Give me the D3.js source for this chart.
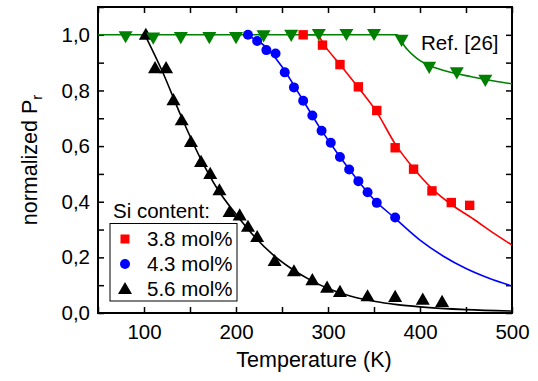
<!DOCTYPE html>
<html>
<head>
<meta charset="utf-8">
<script src="https://cdn.jsdelivr.net/npm/d3@7"></script>
<style>
  body { margin: 0; background: #fff; }
  svg { display: block; font-family: "Liberation Sans", Arial, sans-serif; }
</style>
</head>
<body>
<svg id="chart" width="538" height="381"></svg>
<script>
const WIDTH = 538;
const HEIGHT = 381;
const margin = { top: 7, right: 26, bottom: 68, left: 98 };

// measured points (temperature in K, normalized Pr)
const tempSi38 = [273, 294, 313, 333, 353, 373, 393, 413, 434, 454];
const prSi38 = [1.0, 0.963, 0.893, 0.813, 0.728, 0.594, 0.517, 0.439, 0.397, 0.387];

const tempSi43 = [213, 223, 233, 243, 253, 263, 273, 283, 293, 303, 313, 323, 333, 343, 353, 373];
const prSi43 = [1.0, 0.978, 0.945, 0.933, 0.865, 0.811, 0.763, 0.71, 0.655, 0.612, 0.561, 0.516, 0.474, 0.434, 0.396, 0.343];

const tempSi56 = [102, 112, 124, 132, 141, 151, 162, 172, 182, 193, 204, 213, 223, 242, 263, 283, 299, 313, 343, 373, 403, 424];
const prSi56 = [1.0, 0.88, 0.88, 0.765, 0.693, 0.615, 0.543, 0.5, 0.441, 0.363, 0.351, 0.31, 0.273, 0.187, 0.15, 0.118, 0.091, 0.076, 0.06, 0.058, 0.048, 0.04];

const tempRef = [80, 110, 140, 171, 200, 230, 260, 290, 320, 350, 380, 410, 440, 471];
const prRef = [0.995, 0.99, 0.992, 0.992, 0.992, 0.998, 1.0, 1.003, 1.003, 1.003, 0.982, 0.885, 0.865, 0.838];

// fitted curves
const fitTemp38 = [270, 288, 296, 313, 333, 353, 373, 393, 413, 434, 458, 480, 500];
const fitPr38 = [1.0, 1.0, 0.962, 0.893, 0.81, 0.722, 0.608, 0.52, 0.447, 0.39, 0.338, 0.287, 0.244];

const fitTemp43 = [210, 220, 233, 250, 270, 290, 310, 330, 350, 373, 400, 425, 450, 475, 500];
const fitPr43 = [1.0, 0.985, 0.955, 0.885, 0.78, 0.672, 0.575, 0.487, 0.408, 0.34, 0.262, 0.205, 0.16, 0.125, 0.097];

const fitTemp56 = [101, 120, 140, 160, 180, 200, 220, 240, 260, 280, 300, 325, 350, 375, 400, 450, 500];
const fitPr56 = [1.0, 0.868, 0.71, 0.565, 0.445, 0.355, 0.275, 0.21, 0.16, 0.12, 0.088, 0.06, 0.042, 0.03, 0.022, 0.012, 0.007];

const fitTempRef = [50, 375, 380, 386, 393, 400, 410, 425, 440, 455, 470, 485, 500];
const fitPrRef = [1.0, 1.0, 0.975, 0.948, 0.925, 0.907, 0.89, 0.873, 0.86, 0.85, 0.84, 0.831, 0.824];

const legendLabels = ['3.8 mol%', '4.3 mol%', '5.6 mol%'];
const xTicks = [100, 200, 300, 400, 500];
const yTicks = [0, 0.2, 0.4, 0.6, 0.8, 1.0];

const svg = d3.select('#chart');
const x = d3.scaleLinear().domain([50, 500]).range([margin.left, WIDTH - margin.right]);
const y = d3.scaleLinear().domain([0, 1.1]).range([HEIGHT - margin.bottom, margin.top]);
const comma = (v) => d3.format('.1f')(v).replace('.', ',');

const x0 = x.range()[0], x1 = x.range()[1];
const y0 = y.range()[0], y1 = y.range()[1];

// axes with inward ticks on all four sides
const minorX = d3.range(50, 501, 50);
const minorY = d3.range(0, 1.11, 0.1);

svg.append('g').attr('transform', `translate(0,${y0})`)
  .call(d3.axisBottom(x).tickValues(minorX).tickSize(-6).tickFormat(''))
  .call((g) => g.select('.domain').remove());
svg.append('g').attr('transform', `translate(0,${y1})`)
  .call(d3.axisTop(x).tickValues(minorX).tickSize(-6).tickFormat(''))
  .call((g) => g.select('.domain').remove());
svg.append('g').attr('transform', `translate(${x0},0)`)
  .call(d3.axisLeft(y).tickValues(minorY).tickSize(-6).tickFormat(''))
  .call((g) => g.select('.domain').remove());
svg.append('g').attr('transform', `translate(${x1},0)`)
  .call(d3.axisRight(y).tickValues(minorY).tickSize(-6).tickFormat(''))
  .call((g) => g.select('.domain').remove());
svg.selectAll('.tick line').attr('stroke', '#000').attr('stroke-width', 1.5);

// tick labels
const xAxis = svg.append('g').attr('transform', `translate(0,${y0})`)
  .call(d3.axisBottom(x).tickValues(xTicks).tickSize(0).tickPadding(11).tickFormat(d3.format('d')));
xAxis.select('.domain').remove();
xAxis.selectAll('text').attr('font-size', 20.5).attr('font-family', '"Liberation Sans", Arial, sans-serif').attr('fill', '#000');

const yAxis = svg.append('g').attr('transform', `translate(${x0},0)`)
  .call(d3.axisLeft(y).tickValues(yTicks).tickSize(0).tickPadding(8).tickFormat(comma));
yAxis.select('.domain').remove();
yAxis.selectAll('text').attr('font-size', 20.5).attr('font-family', '"Liberation Sans", Arial, sans-serif').attr('fill', '#000');

// frame
svg.append('rect')
  .attr('x', x0).attr('y', y1)
  .attr('width', x1 - x0).attr('height', y0 - y1)
  .attr('fill', 'none').attr('stroke', '#000').attr('stroke-width', 2);

// fitted lines
const line = d3.line()
  .x((d) => x(d[0]))
  .y((d) => y(d[1]))
  .curve(d3.curveMonotoneX);
const zip = (a, b) => a.map((v, i) => [v, b[i]]);

const plot = svg.append('g');
const curves = [
  { t: fitTemp56, p: fitPr56, color: '#000' },
  { t: fitTemp43, p: fitPr43, color: '#0000ff' },
  { t: fitTemp38, p: fitPr38, color: '#ff0000' },
  { t: fitTempRef, p: fitPrRef, color: '#008000' },
];
curves.forEach((c) => {
  plot.append('path')
    .attr('d', line(zip(c.t, c.p)))
    .attr('fill', 'none')
    .attr('stroke', c.color)
    .attr('stroke-width', 1.6);
});

// markers
const tri = d3.symbol().type(d3.symbolTriangle).size(85);

plot.selectAll('.m56').data(zip(tempSi56, prSi56)).enter()
  .append('path')
  .attr('d', tri)
  .attr('transform', (d) => `translate(${x(d[0])},${y(d[1]) + 1})`)
  .attr('fill', '#000');

plot.selectAll('.m43').data(zip(tempSi43, prSi43)).enter()
  .append('circle')
  .attr('cx', (d) => x(d[0]))
  .attr('cy', (d) => y(d[1]))
  .attr('r', 5)
  .attr('fill', '#0000ff');

plot.selectAll('.m38').data(zip(tempSi38, prSi38)).enter()
  .append('rect')
  .attr('x', (d) => x(d[0]) - 4.7)
  .attr('y', (d) => y(d[1]) - 4.7)
  .attr('width', 9.4)
  .attr('height', 9.4)
  .attr('fill', '#ff0000');

plot.selectAll('.mref').data(zip(tempRef, prRef)).enter()
  .append('path')
  .attr('d', tri)
  .attr('transform', (d) => `translate(${x(d[0])},${y(d[1]) - 1}) rotate(180)`)
  .attr('fill', '#008000');

// Ref. label
svg.append('text')
  .attr('x', 421).attr('y', 50)
  .attr('font-size', 20.5)
  .text('Ref. [26]');

// legend
svg.append('text')
  .attr('x', 113).attr('y', 218)
  .attr('font-size', 20.5)
  .text('Si content:');
svg.append('rect')
  .attr('x', 110).attr('y', 223.5)
  .attr('width', 127).attr('height', 77.5)
  .attr('fill', '#fff').attr('stroke', '#000').attr('stroke-width', 1);

const legendRows = svg.append('g');
legendLabels.forEach((label, i) => {
  const cy = 239 + i * 25;
  if (i === 0) {
    legendRows.append('rect').attr('x', 120.5).attr('y', cy - 4.5).attr('width', 9).attr('height', 9).attr('fill', '#ff0000');
  } else if (i === 1) {
    legendRows.append('circle').attr('cx', 125).attr('cy', cy).attr('r', 5).attr('fill', '#0000ff');
  } else {
    legendRows.append('path').attr('d', tri).attr('transform', `translate(125,${cy + 1})`).attr('fill', '#000');
  }
  legendRows.append('text')
    .attr('x', 147).attr('y', cy + 7)
    .attr('font-size', 20.5)
    .text(label);
});

// axis titles
svg.append('text')
  .attr('x', (x0 + x1) / 2 + 9).attr('y', 367)
  .attr('text-anchor', 'middle')
  .attr('font-size', 21.5)
  .text('Temperature (K)');

const yTitle = svg.append('text')
  .attr('transform', `translate(37,${(y0 + y1) / 2}) rotate(-90)`)
  .attr('text-anchor', 'middle')
  .attr('font-size', 21.5);
yTitle.append('tspan').text('normalized P');
yTitle.append('tspan').attr('font-size', 15).attr('dy', 5).text('r');
</script>
</body>
</html>
